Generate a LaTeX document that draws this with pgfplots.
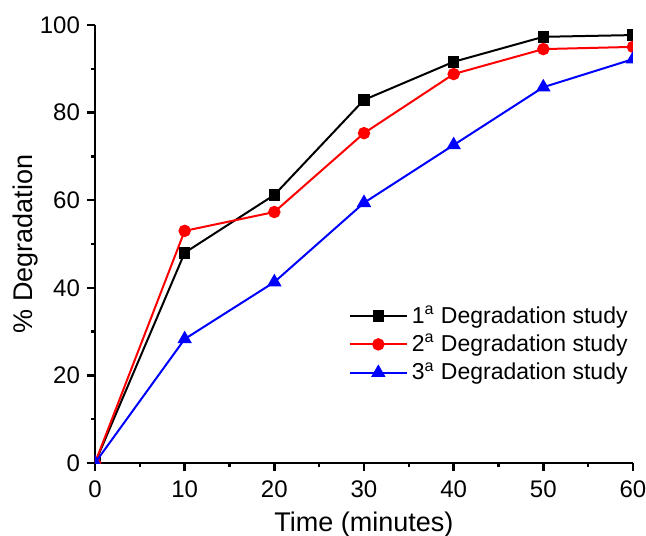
\documentclass[border=0pt]{standalone}
\usepackage{fontspec}
\setmainfont{Liberation Sans}
\usepackage{pgfplots}
\pgfplotsset{compat=1.18}

\begin{document}
\begin{tikzpicture}
\useasboundingbox (-47.5pt,-36pt) rectangle (275.5pt,231.5pt);
\begin{axis}[
    scale only axis,
    width=269pt, height=219pt,
    at={(0,0)}, anchor=south west,
    xmin=0, xmax=60, ymin=0, ymax=100,
    axis lines*=left,
    axis line style={line width=1.4pt},
    tick align=outside,
    xtick={0,10,...,60}, minor xtick={5,15,...,55},
    ytick={0,20,...,100}, minor ytick={10,30,...,90},
    major tick length=4pt, minor tick length=2pt,
    every tick/.style={black, line width=1.2pt},
    tick label style={font=\fontsize{12}{13}\selectfont},
    xticklabel style={yshift=-1.5pt},
    /pgf/number format/assume math mode=true,
    xlabel={Time (minutes)}, ylabel={\% Degradation},
    label style={font=\fontsize{13.5}{15}\selectfont},
    xlabel style={yshift=0pt},
    ylabel style={yshift=-6pt},
    clip marker paths=true,
    legend cell align=left,
    legend style={at={(0.46,0.378)}, anchor=north west, draw=none, fill=none,
        font=\fontsize{11.5}{12}\selectfont, row sep=0pt},
    legend image code/.code={\draw[mark repeat=2,mark phase=2]
        plot coordinates {(0cm,0cm)(0.5cm,0cm)(1cm,0cm)};},
    every axis plot/.append style={line width=1pt},
]
\addplot[black, mark=square*, mark size=2.4pt, mark options={solid}] coordinates {
    (0,0) (10,48) (20,61.2) (30,82.9) (40,91.6) (50,97.3) (60,97.7)};
\addlegendentry{1\textsuperscript{a} Degradation study}
\addplot[red, mark=*, mark size=2.6pt] coordinates {
    (0,0) (10,53) (20,57.3) (30,75.3) (40,88.8) (50,94.5) (60,95)};
\addlegendentry{2\textsuperscript{a} Degradation study}
\addplot[blue, mark=triangle*, mark size=3.2pt] coordinates {
    (0,0) (10,28.3) (20,41.3) (30,59.4) (40,72.6) (50,85.8) (60,92.2)};
\addlegendentry{3\textsuperscript{a} Degradation study}
\end{axis}
\end{tikzpicture}
\end{document}
